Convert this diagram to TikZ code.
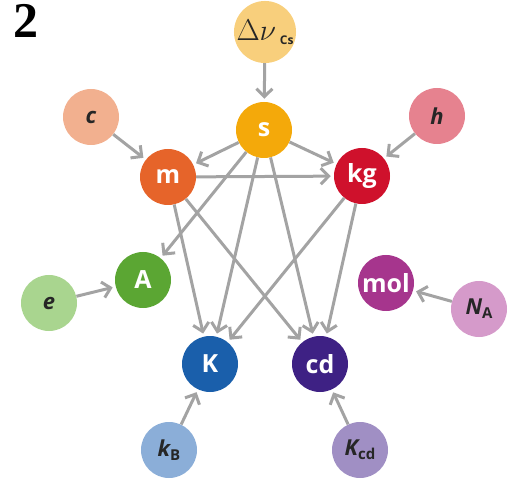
\documentclass[tikz,border=0pt]{standalone}
\usepackage{fontspec}
\setmainfont{Open Sans}
\newfontfamily\figfont{Liberation Serif}
\usepackage{tikz}
\usetikzlibrary{arrows.meta}
\definecolor{linkgray}{HTML}{A3A3A3}
\definecolor{cDnu}{HTML}{F8CF7C}
\definecolor{cs}{HTML}{F4A90A}
\definecolor{cc}{HTML}{F2B08F}
\definecolor{cm}{HTML}{E6642A}
\definecolor{ch}{HTML}{E6828F}
\definecolor{ckg}{HTML}{CF112C}
\definecolor{ce}{HTML}{A9D58F}
\definecolor{cA}{HTML}{5BA633}
\definecolor{cmol}{HTML}{A6358D}
\definecolor{cNA}{HTML}{D59ACA}
\definecolor{cK}{HTML}{1A5FAB}
\definecolor{ccd}{HTML}{3E2184}
\definecolor{ckB}{HTML}{8BAED8}
\definecolor{cKcd}{HTML}{A08FC4}
\tikzset{
	unit/.style={circle, minimum size=56pt, inner sep=0pt, text=white,
		font=\fontsize{25}{27}\selectfont\bfseries},
	const/.style={circle, minimum size=56pt, inner sep=0pt, text=black!85,
		font=\fontsize{22}{24}\selectfont\itshape\bfseries},
	link/.style={draw=linkgray, line width=3pt,
		-{Straight Barb[length=8pt,width=16pt,line width=3pt]}, shorten >=3pt}
}
\newcommand{\sub}[1]{\raisebox{-4pt}{\upshape\fontsize{15}{16}\selectfont #1}}
\begin{document}
\begin{tikzpicture}[x=1pt, y=-1pt]
	\useasboundingbox (0,0) rectangle (517,481);
	\node[anchor=base east, inner sep=0pt] (fig) at (39,38) {\figfont\bfseries\fontsize{50}{50}\selectfont 2};
%
	\node[const, fill=cDnu] (Dnu) at (265,32) {\upshape\scalebox{1.45}{$\Delta\nu$}\,\raisebox{-4pt}{\fontsize{12}{13}\selectfont\bfseries Cs}};
	\node[unit, fill=cs] (s) at (264,130) {s};
	\node[const, fill=cc] (c) at (91,117) {c};
	\node[unit, fill=cm] (m) at (168,177) {m};
	\node[const, fill=ch] (h) at (437,116) {h};
	\node[unit, fill=ckg] (kg) at (362,176) {kg};
	\node[const, fill=ce] (e) at (49,303) {e};
	\node[unit, fill=cA] (A) at (143,280) {A};
	\node[unit, fill=cmol] (mol) at (386,283) {mol};
	\node[const, fill=cNA] (NA) at (479,309) {N\sub{A}};
	\node[unit, fill=cK] (K) at (210,364) {K};
	\node[unit, fill=ccd] (cd) at (320,364) {cd};
	\node[const, fill=ckB] (kB) at (169,450) {k\sub{B}};
	\node[const, fill=cKcd] (Kcd) at (360,450) {K\sub{cd}};
%
	\draw[link] (Dnu) -- (s);
	\draw[link] (c) -- (m);
	\draw[link] (h) -- (kg);
	\draw[link] (e) -- (A);
	\draw[link] (NA) -- (mol);
	\draw[link] (kB) -- (K);
	\draw[link] (Kcd) -- (cd);
%
	\draw[link] (s) -- (m);
	\draw[link] (s) -- (kg);
	\draw[link] (s) -- (A);
	\draw[link] (s) -- (K);
	\draw[link] (s) -- (cd);
	\draw[link] (m) -- (kg);
	\draw[link] (m) -- (K);
	\draw[link] (m) -- (cd);
	\draw[link] (kg) -- (K);
	\draw[link] (kg) -- (cd);
\end{tikzpicture}
\end{document}
